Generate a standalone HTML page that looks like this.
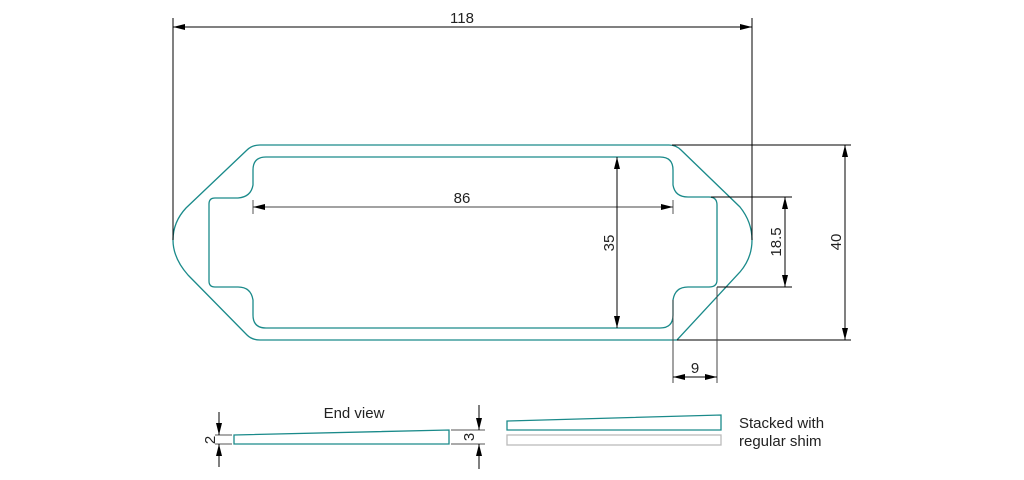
<!DOCTYPE html>
<html><head><meta charset="utf-8"><style>
html,body{margin:0;padding:0;background:#fff;width:1024px;height:480px;overflow:hidden}
svg{display:block}
text{font-family:"Liberation Sans","DejaVu Sans",sans-serif;font-size:15px;fill:#222}
</style></head><body>
<svg width="1024" height="480" viewBox="0 0 1024 480" xmlns="http://www.w3.org/2000/svg">
<defs>
<marker id="a" markerWidth="12" markerHeight="6" refX="12" refY="3" orient="auto-start-reverse" markerUnits="userSpaceOnUse">
<path d="M0,0 L12,3 L0,6 z" fill="#000"/></marker>
</defs>
<g fill="none" stroke="#1a8a8a" stroke-width="1.3">
<path d="M260,145 L669,145 Q676,145 681,150 L740,207 Q752,222 752,240 Q752,258 740,272 L677,340 L260,340 Q252,340 247,335 L188,275 Q173,258 173,240 Q173,222 186,208 L247,150 Q252,145 260,145 Z"/>
<path d="M266,157 L660,157 Q673,157 673,170 L673,185 Q675,197 688,197 L709,197 Q717,197 717,205 L717,280 Q717,287 709,287 L688,287 Q675,287 673,300 L673,315 Q673,328 660,328 L266,328 Q253,328 253,315 L253,300 Q251,287 238,287 L215,287 Q209,287 209,281 L209,204 Q209,198 215,198 L238,198 Q251,197 253,185 L253,170 Q253,157 266,157 Z"/>
<path d="M234,435 L449,430 L449,444 L234,444 Z"/>
<path d="M507,421 L721,415 L721,430 L507,430 Z"/>
</g>
<rect x="507" y="435" width="214" height="10" fill="none" stroke="#bbb" stroke-width="1.3"/>
<g stroke="#000" stroke-width="1" fill="none">
<line x1="173" y1="18" x2="173" y2="240"/><line x1="752" y1="18" x2="752" y2="240"/>
<line x1="173" y1="27" x2="752" y2="27" marker-start="url(#a)" marker-end="url(#a)"/>
<line x1="253" y1="200" x2="253" y2="214" stroke="#555"/><line x1="673" y1="200" x2="673" y2="214" stroke="#555"/>
<line x1="253" y1="207" x2="673" y2="207" stroke="#444" marker-start="url(#a)" marker-end="url(#a)"/>
<line x1="617" y1="157" x2="617" y2="328" marker-start="url(#a)" marker-end="url(#a)"/>
<line x1="711" y1="197" x2="792" y2="197"/><line x1="717" y1="287" x2="792" y2="287"/>
<line x1="785" y1="197" x2="785" y2="287" marker-start="url(#a)" marker-end="url(#a)"/>
<line x1="672" y1="145" x2="851" y2="145"/><line x1="677" y1="340" x2="851" y2="340"/>
<line x1="845" y1="145" x2="845" y2="340" marker-start="url(#a)" marker-end="url(#a)"/>
<line x1="673" y1="300" x2="673" y2="383" stroke="#444"/><line x1="717" y1="287" x2="717" y2="383" stroke="#444"/>
<line x1="673" y1="377" x2="717" y2="377" marker-start="url(#a)" marker-end="url(#a)"/>
<line x1="215" y1="435" x2="232" y2="435" stroke="#555"/><line x1="215" y1="444" x2="232" y2="444" stroke="#555"/>
<line x1="219" y1="412" x2="219" y2="435" marker-end="url(#a)"/><line x1="219" y1="467" x2="219" y2="444" marker-end="url(#a)"/>
<line x1="451" y1="430" x2="485" y2="430" stroke="#555"/><line x1="451" y1="444" x2="485" y2="444" stroke="#555"/>
<line x1="479" y1="405" x2="479" y2="430" marker-end="url(#a)"/><line x1="479" y1="469" x2="479" y2="444" marker-end="url(#a)"/>
</g>
<text x="462" y="23" text-anchor="middle">118</text>
<text x="462" y="203" text-anchor="middle">86</text>
<text transform="translate(614,243) rotate(-90)" text-anchor="middle">35</text>
<text transform="translate(781,242) rotate(-90)" text-anchor="middle">18.5</text>
<text transform="translate(841,242) rotate(-90)" text-anchor="middle">40</text>
<text x="695" y="373" text-anchor="middle">9</text>
<text transform="translate(215,440) rotate(-90)" text-anchor="middle">2</text>
<text transform="translate(474,437) rotate(-90)" text-anchor="middle">3</text>
<text x="354" y="418" text-anchor="middle">End view</text>
<text x="739" y="428">Stacked with</text>
<text x="739" y="446">regular shim</text>
</svg>
</body></html>
